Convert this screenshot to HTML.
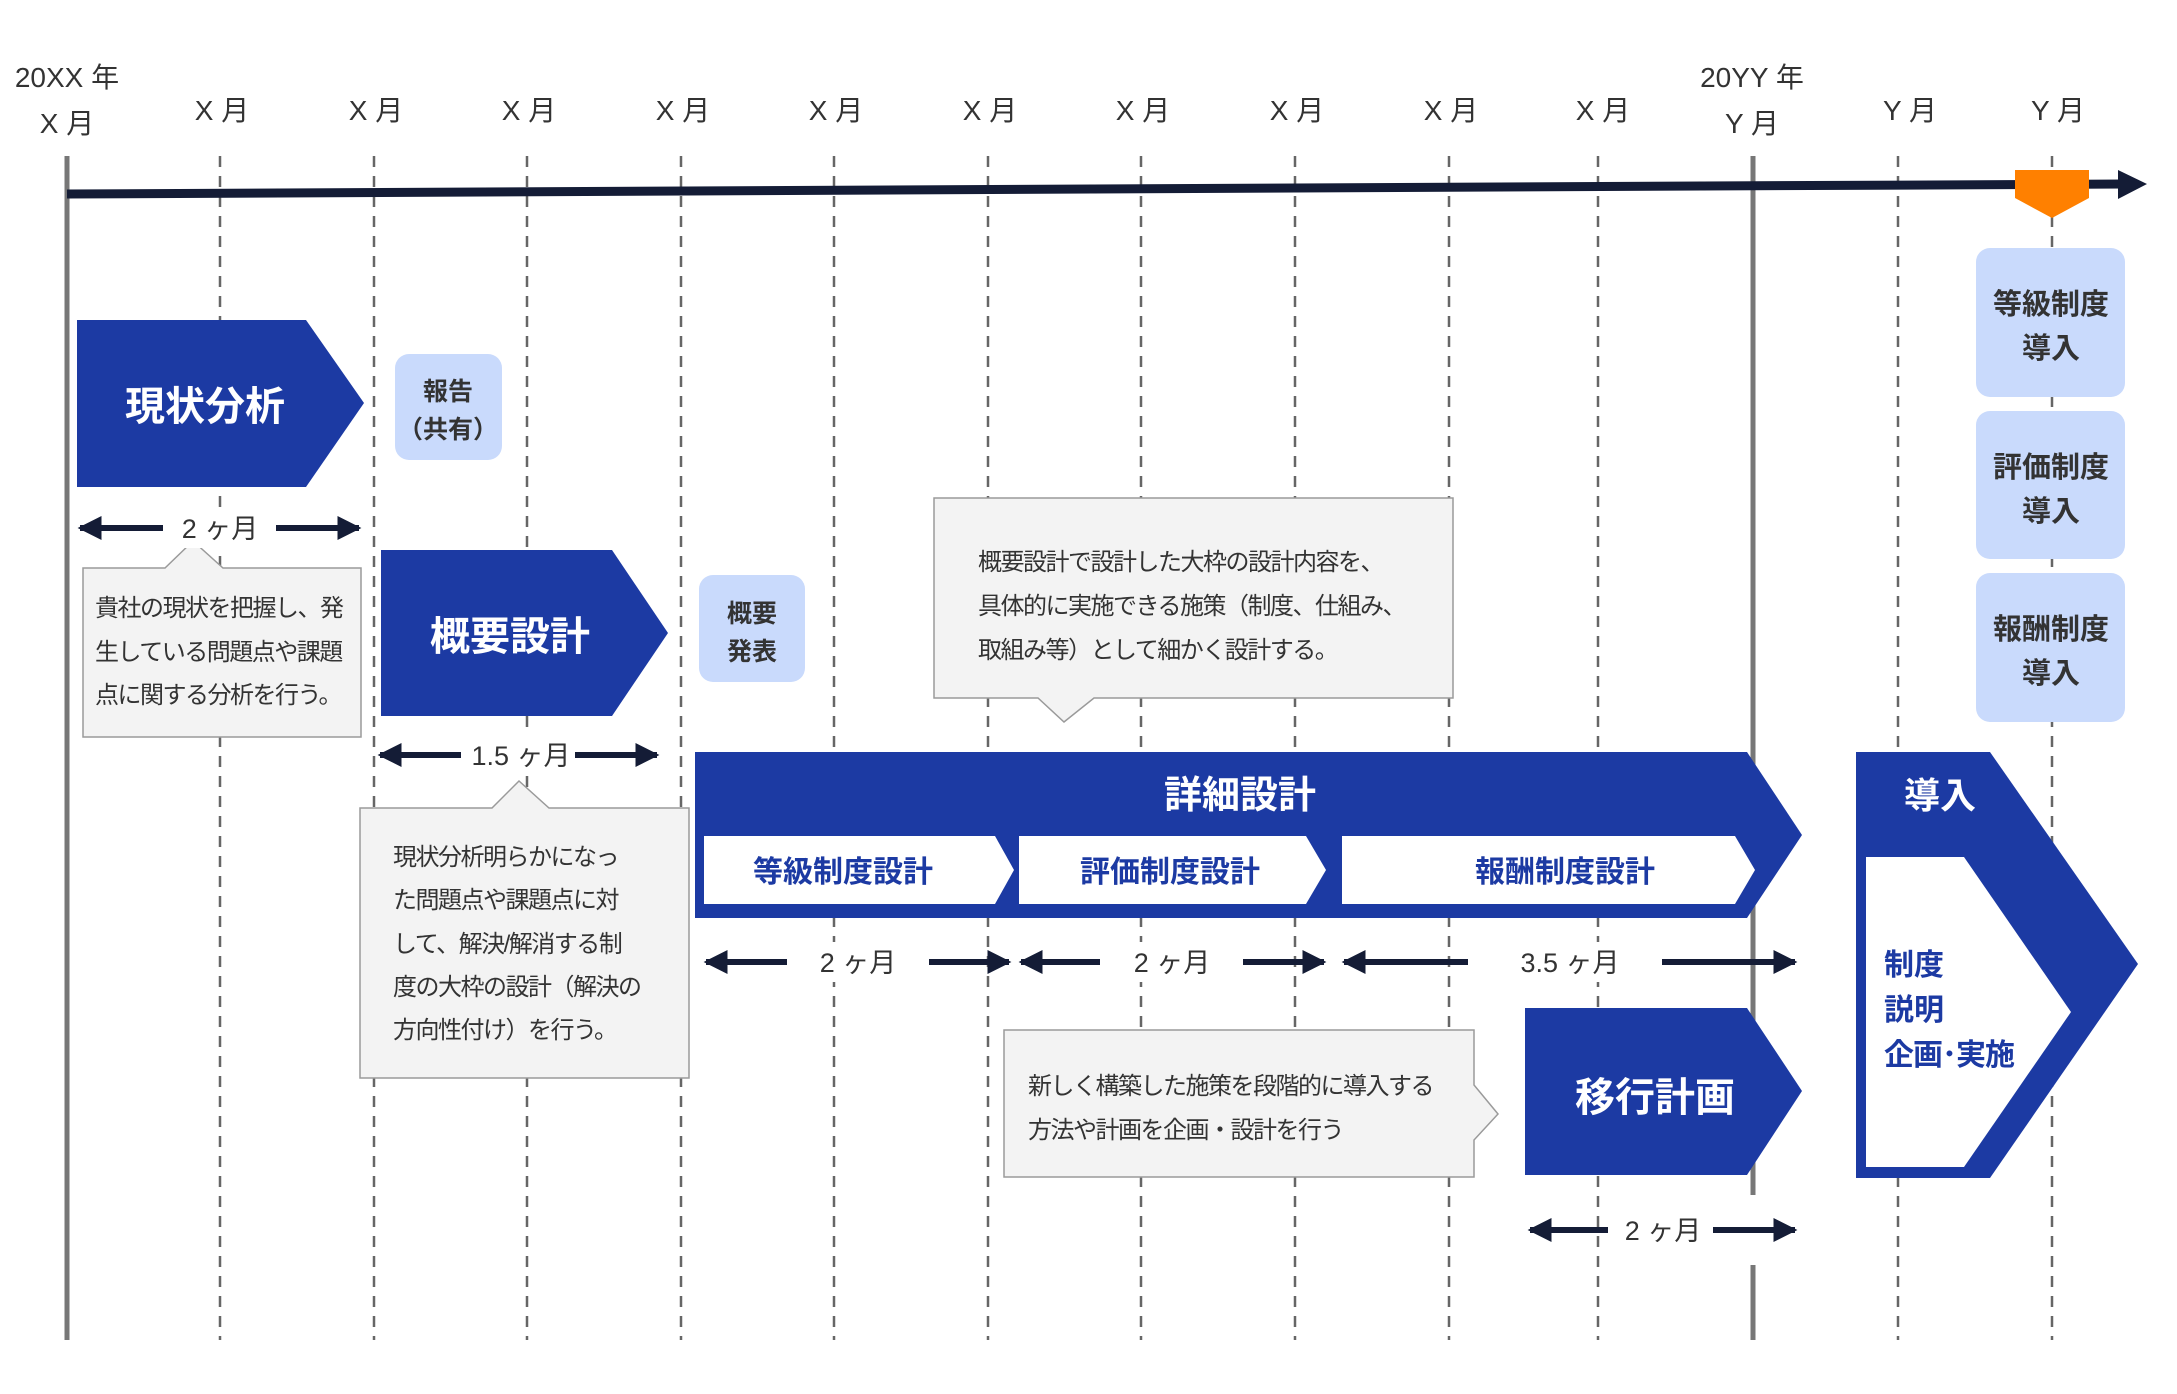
<!DOCTYPE html>
<html><head><meta charset="utf-8"><style>
html,body{margin:0;padding:0;background:#fff;}
svg{display:block;}
text{font-family:"Liberation Sans","Noto Sans CJK JP",sans-serif;}
</style></head><body>
<svg width="2177" height="1394" viewBox="0 0 2177 1394" xmlns="http://www.w3.org/2000/svg">
<defs>
<marker id="ah" viewBox="0 0 10 10" refX="9" refY="5" markerWidth="4" markerHeight="4" orient="auto-start-reverse"><path d="M0,0 L10,5 L0,10 z" fill="#141c36"/></marker>
</defs>
<!-- header labels -->
<g font-size="28" fill="#333" text-anchor="middle">
<text x="67" y="87">20XX 年</text><text x="67" y="133">X 月</text>
<text x="222" y="120">X 月</text><text x="376" y="120">X 月</text><text x="529" y="120">X 月</text>
<text x="683" y="120">X 月</text><text x="836" y="120">X 月</text><text x="990" y="120">X 月</text>
<text x="1143" y="120">X 月</text><text x="1297" y="120">X 月</text><text x="1451" y="120">X 月</text>
<text x="1603" y="120">X 月</text>
<text x="1752" y="87">20YY 年</text><text x="1752" y="133">Y 月</text>
<text x="1910" y="120">Y 月</text><text x="2058" y="120">Y 月</text>
</g>
<!-- dashed lines -->
<g stroke="#666" stroke-width="2.5" stroke-dasharray="11 9">
<line x1="220" y1="156" x2="220" y2="1340"/><line x1="374" y1="156" x2="374" y2="1340"/>
<line x1="527" y1="156" x2="527" y2="1340"/><line x1="681" y1="156" x2="681" y2="1340"/>
<line x1="834" y1="156" x2="834" y2="1340"/><line x1="988" y1="156" x2="988" y2="1340"/>
<line x1="1141" y1="156" x2="1141" y2="1340"/><line x1="1295" y1="156" x2="1295" y2="1340"/>
<line x1="1449" y1="156" x2="1449" y2="1340"/><line x1="1598" y1="156" x2="1598" y2="1340"/>
<line x1="1898" y1="156" x2="1898" y2="1340"/><line x1="2052" y1="156" x2="2052" y2="1340"/>
</g>
<line x1="67" y1="156" x2="67" y2="1340" stroke="#777" stroke-width="5"/>
<line x1="1753" y1="156" x2="1753" y2="1195" stroke="#777" stroke-width="5"/>
<line x1="1753" y1="1265" x2="1753" y2="1340" stroke="#777" stroke-width="5"/>
<!-- timeline -->
<line x1="67" y1="194" x2="2125" y2="184" stroke="#141c36" stroke-width="9"/>
<path d="M2118,170 L2147,184 L2118,199 z" fill="#141c36"/>
<path d="M2015,170 L2089,170 L2089,198 L2052,218 L2015,198 z" fill="#ff8000"/>

<!-- shapes -->
<g fill="#1c3aa3">
<path d="M77,320 L306,320 L364,403 L306,487 L77,487 z"/>
<path d="M381,550 L612,550 L668,633 L612,716 L381,716 z"/>
<path d="M695,752 L1747,752 L1802,835 L1747,918 L695,918 z"/>
<path d="M1525,1008 L1747,1008 L1802,1091 L1747,1175 L1525,1175 z"/>
<path d="M1856,752 L1990,752 L2138,964 L1990,1178 L1856,1178 z"/>
</g>
<g fill="#fff">
<path d="M704,836 L995,836 L1014,870 L995,904 L704,904 z"/>
<path d="M1019,836 L1306,836 L1326,870 L1306,904 L1019,904 z"/>
<path d="M1342,836 L1735,836 L1755,870 L1735,904 L1342,904 z"/>
<path d="M1866,857 L1964,857 L2071,1012 L1964,1167 L1866,1167 z"/>
</g>
<g font-weight="bold" fill="#fff" text-anchor="middle">
<text x="205" y="420" font-size="40">現状分析</text>
<text x="510" y="650" font-size="40">概要設計</text>
<text x="1240" y="808" font-size="38">詳細設計</text>
<text x="1655" y="1111" font-size="40">移行計画</text>
<text x="1940" y="808" font-size="36">導入</text>
</g>
<g font-weight="bold" fill="#1c3aa3" font-size="30">
<text x="843" y="882" text-anchor="middle">等級制度設計</text>
<text x="1170" y="882" text-anchor="middle">評価制度設計</text>
<text x="1565" y="882" text-anchor="middle">報酬制度設計</text>
<text x="1884" y="975">制度</text>
<text x="1884" y="1020">説明</text>
<text x="1884" y="1065" letter-spacing="-1">企画･実施</text>
</g>

<!-- light boxes -->
<g fill="#c9dafc">
<rect x="395" y="354" width="107" height="106" rx="14"/>
<rect x="699" y="575" width="106" height="107" rx="14"/>
<rect x="1976" y="248" width="149" height="149" rx="14"/>
<rect x="1976" y="411" width="149" height="148" rx="14"/>
<rect x="1976" y="573" width="149" height="149" rx="14"/>
</g>
<g font-weight="bold" fill="#333" text-anchor="middle" font-size="25">
<text x="448" y="400">報告</text><text x="448" y="438">（共有）</text>
<text x="752" y="622">概要</text><text x="752" y="660">発表</text>
</g>
<g font-weight="bold" fill="#333" text-anchor="middle" font-size="29">
<text x="2051" y="314">等級制度</text><text x="2051" y="358">導入</text>
<text x="2051" y="477">評価制度</text><text x="2051" y="521">導入</text>
<text x="2051" y="639">報酬制度</text><text x="2051" y="683">導入</text>
</g>

<!-- callouts -->
<g fill="#f3f3f3" stroke="#9a9a9a" stroke-width="1.5">
<path d="M83,568 L165,568 L193,541 L223,568 L361,568 L361,737 L83,737 z"/>
<path d="M360,808 L492,808 L519,781 L549,808 L689,808 L689,1078 L360,1078 z"/>
<path d="M934,498 L1453,498 L1453,698 L1094,698 L1064,722 L1038,698 L934,698 z"/>
<path d="M1004,1030 L1474,1030 L1474,1085 L1498,1114 L1474,1140 L1474,1177 L1004,1177 z"/>
</g>
<g fill="#333" font-size="24" letter-spacing="-1.5">
<text x="95" y="616">貴社の現状を把握し、発</text>
<text x="95" y="660">生している問題点や課題</text>
<text x="95" y="703">点に関する分析を行う。</text>
<text x="393" y="865">現状分析明らかになっ</text>
<text x="393" y="908">た問題点や課題点に対</text>
<text x="393" y="952">して、解決/解消する制</text>
<text x="393" y="995">度の大枠の設計（解決の</text>
<text x="393" y="1038">方向性付け）を行う。</text>
<text x="978" y="570">概要設計で設計した大枠の設計内容を、</text>
<text x="978" y="614">具体的に実施できる施策（制度、仕組み、</text>
<text x="978" y="658">取組み等）として細かく設計する。</text>
<text x="1028" y="1094">新しく構築した施策を段階的に導入する</text>
<text x="1028" y="1138">方法や計画を企画・設計を行う</text>
</g>

<!-- duration label backgrounds -->
<g fill="#fff">
<rect x="170" y="508" width="100" height="40"/>
<rect x="465" y="735" width="106" height="40"/>
<rect x="800" y="942" width="120" height="40"/>
<rect x="1110" y="942" width="125" height="40"/>
<rect x="1480" y="942" width="175" height="40"/>
<rect x="1615" y="1210" width="95" height="40"/>
</g>
<!-- duration arrows -->
<g stroke="#141c36" stroke-width="6" marker-end="url(#ah)">
<line x1="163" y1="528" x2="80" y2="528"/><line x1="276" y1="528" x2="359" y2="528"/>
<line x1="461" y1="755" x2="380" y2="755"/><line x1="575" y1="755" x2="657" y2="755"/>
<line x1="787" y1="962" x2="706" y2="962"/><line x1="929" y1="962" x2="1009" y2="962"/>
<line x1="1100" y1="962" x2="1021" y2="962"/><line x1="1243" y1="962" x2="1324" y2="962"/>
<line x1="1468" y1="962" x2="1344" y2="962"/><line x1="1662" y1="962" x2="1795" y2="962"/>
<line x1="1608" y1="1230" x2="1530" y2="1230"/><line x1="1713" y1="1230" x2="1795" y2="1230"/>
</g>
<g fill="#333" font-size="27" text-anchor="middle">
<text x="220" y="538">2 ヶ月</text>
<text x="521" y="765">1.5 ヶ月</text>
<text x="858" y="972">2 ヶ月</text>
<text x="1172" y="972">2 ヶ月</text>
<text x="1570" y="972">3.5 ヶ月</text>
<text x="1663" y="1240">2 ヶ月</text>
</g>
</svg>
</body></html>
